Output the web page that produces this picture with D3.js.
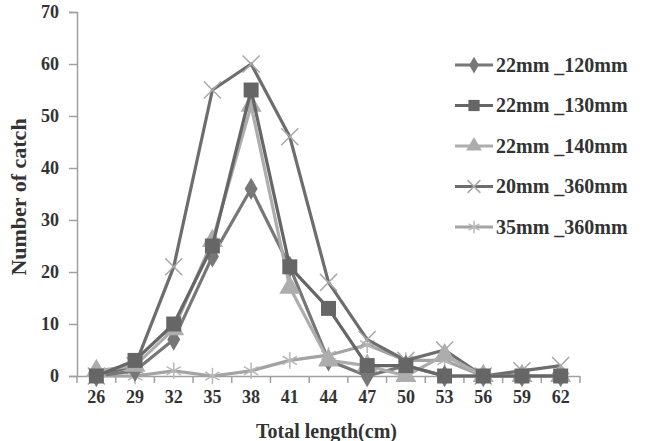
<!DOCTYPE html>
<html>
<head>
<meta charset="utf-8">
<script src="https://cdn.jsdelivr.net/npm/d3@7"></script>
<style>
    body { margin: 0; background: #fff; }
    svg { display: block; }
    text { font-family: "Liberation Serif", "Times New Roman", serif; font-weight: bold; fill: #333; }
</style>
</head>
<body>
<svg id="chart" width="647" height="441"></svg>
<script>
// total length classes (cm)
const lengths = [26, 29, 32, 35, 38, 41, 44, 47, 50, 53, 56, 59, 62];
const yTicks = [0, 10, 20, 30, 40, 50, 60, 70];

const seriesNames = ['22mm _120mm', '22mm _130mm', '22mm _140mm', '20mm _360mm', '35mm _360mm'];
const mesh120 = [0, 1, 7, 23, 36, 21, 3, 0, 2, 0, 0, 0, 0];
const mesh130 = [0, 3, 10, 25, 55, 21, 13, 2, 2, 0, 0, 0, 0];
const mesh140 = [1, 2, 9, 26, 52, 17, 3, 2, 0, 4, 0, 0, 0];
const mesh360a = [0, 2, 21, 55, 60, 46, 18, 7, 3, 5, 0, 1, 2];
const mesh360b = [0, 0, 1, 0, 1, 3, 4, 6, 3, 3, 0, 0, 0];

const seriesValues = [mesh120, mesh130, mesh140, mesh360a, mesh360b];
const seriesColors = ['#777777', '#666666', '#adadad', '#6d6d6d', '#a3a3a3'];
const seriesSymbols = ['diamond', 'square', 'triangle', 'cross', 'asterisk'];

const svg = d3.select('#chart');
const margin = {left: 77, right: 67, top: 12, bottom: 65};
const width = 647 - margin.left - margin.right;
const height = 441 - margin.top - margin.bottom;

let x = d3.scaleBand()
    .domain(lengths)
    .range([0, width]);
let y = d3.scaleLinear()
    .domain([0, 70])
    .range([height, 0]);

let g = svg.append('g')
    .attr('transform', 'translate(' + margin.left + ',' + margin.top + ')');

const axisColor = '#a0a0a0';

// y axis
let yAxis = g.append('g')
    .call(d3.axisLeft(y).tickValues(yTicks).tickSize(8).tickPadding(10));
yAxis.select('.domain').attr('stroke', axisColor).attr('stroke-width', 1.5);
yAxis.selectAll('.tick line').attr('stroke', axisColor).attr('stroke-width', 1.5);
yAxis.selectAll('.tick text')
    .style('font-size', '18px').style('font-family', null).attr('fill', '#333');

// x axis: labels at category centres, tick marks between categories
let xAxis = g.append('g')
    .attr('transform', 'translate(0,' + height + ')')
    .call(d3.axisBottom(x).tickSize(0).tickPadding(14).tickSizeOuter(0));
xAxis.select('.domain').attr('stroke', axisColor).attr('stroke-width', 1.5);
xAxis.selectAll('.tick text')
    .style('font-size', '18px').style('font-family', null).attr('fill', '#333');

let bounds = lengths.map(d => x(d)).concat([x(lengths[lengths.length - 1]) + x.step()]);
xAxis.selectAll('.minor')
    .data(bounds)
    .enter().append('line')
    .attr('class', 'minor')
    .attr('x1', d => d).attr('x2', d => d)
    .attr('y1', 0).attr('y2', 7)
    .attr('stroke', axisColor)
    .attr('stroke-width', 1.5);

// axis titles
svg.append('text')
    .attr('x', margin.left + width / 2 - 2)
    .attr('y', 438)
    .attr('text-anchor', 'middle')
    .style('font-size', '20px')
    .text('Total length(cm)');

svg.append('text')
    .attr('transform', 'translate(26,' + (margin.top + height / 2 + 3) + ') rotate(-90)')
    .attr('text-anchor', 'middle')
    .style('font-size', '22px')
    .text('Number of catch');

function cx(i) {
    return x(lengths[i]) + x.bandwidth() / 2;
}

function drawMarker(sel, type, color, size) {
    let s = size;
    if (type === 'diamond') {
        sel.append('path').attr('d', d3.symbol().type(d3.symbolDiamond).size(s * 9)()).attr('fill', color);
    } else if (type === 'square') {
        sel.append('path').attr('d', d3.symbol().type(d3.symbolSquare).size(s * 14)()).attr('fill', color);
    } else if (type === 'triangle') {
        sel.append('path').attr('d', d3.symbol().type(d3.symbolTriangle).size(s * 12)()).attr('fill', color);
    } else if (type === 'cross') {
        sel.append('path').attr('d', d3.symbol().type(d3.symbolX).size(s * 12)())
            .attr('fill', 'none').attr('stroke', '#a8a8a8').attr('stroke-width', 1.5);
    } else if (type === 'asterisk') {
        sel.append('path').attr('d', d3.symbol().type(d3.symbolAsterisk).size(s * 12)())
            .attr('fill', 'none').attr('stroke', '#b8b8b8').attr('stroke-width', 1.5);
    }
}

let line = d3.line()
    .x((d, i) => cx(i))
    .y(d => y(d));

// draw series (back to front so the light ones sit under)
let order = [4, 3, 0, 2, 1];
order.forEach(function (k) {
    let sg = g.append('g').attr('class', 'series');
    sg.append('path')
        .datum(seriesValues[k])
        .attr('d', line)
        .attr('fill', 'none')
        .attr('stroke', seriesColors[k])
        .attr('stroke-width', 3.2)
        .attr('stroke-linejoin', 'round');
    seriesValues[k].forEach(function (v, i) {
        let m = sg.append('g').attr('transform', 'translate(' + cx(i) + ',' + y(v) + ')');
        drawMarker(m, seriesSymbols[k], seriesColors[k], 16);
    });
});

// legend
let legend = svg.append('g').attr('transform', 'translate(455,65)');
seriesNames.forEach(function (name, k) {
    let row = legend.append('g').attr('transform', 'translate(0,' + (k * 40.5) + ')');
    row.append('line')
        .attr('x1', 0).attr('x2', 38)
        .attr('stroke', seriesColors[k])
        .attr('stroke-width', 3.2);
    let m = row.append('g').attr('transform', 'translate(19,0)');
    drawMarker(m, seriesSymbols[k], seriesColors[k], 9);
    row.append('text')
        .attr('x', 41)
        .attr('y', 6.5)
        .style('font-size', '20px')
        .text(name);
});
</script>
</body>
</html>
